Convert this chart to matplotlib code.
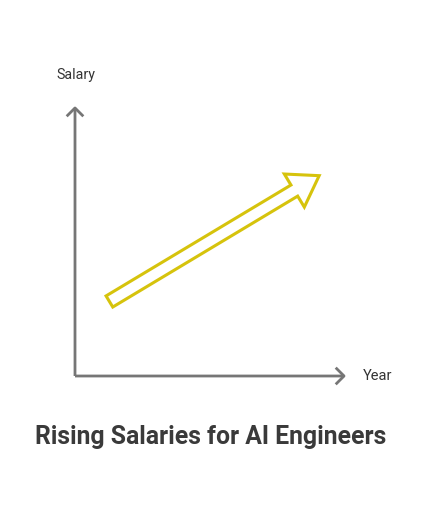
import matplotlib.pyplot as plt
from matplotlib.patches import FancyArrow, FancyArrowPatch

plt.rcParams['font.family'] = ['Roboto', 'DejaVu Sans']

# Chart content
title = 'Rising Salaries for AI Engineers'
x_label = 'Year'
y_label = 'Salary'
# Trend arrow: start and end in axis units (0..1)
trend_start = [0.127, 0.276]
trend_end = [0.901, 0.742]

axis_color = '#767676'
trend_color = '#D6C30C'
text_color = '#333333'

W, H = 437, 512
fig = plt.figure(figsize=(W / 100, H / 100), dpi=100)

# axes area: origin at (75, 376) px, extent 271 x 270 px
ax = fig.add_axes([75 / W, (H - 376) / H, 271 / W, 270 / H])
ax.set_xlim(0, 1)
ax.set_ylim(0, 1)
ax.axis('off')

# Axis lines with open arrow heads
for end in [(1, 0), (0, 1)]:
    a = FancyArrowPatch((0, 0), end, arrowstyle='->,head_length=6,head_width=6',
                        mutation_scale=1, color=axis_color, lw=2.0,
                        shrinkA=0, shrinkB=0, clip_on=False, capstyle='butt')
    ax.add_patch(a)

# Outlined trend arrow
dx = trend_end[0] - trend_start[0]
dy = trend_end[1] - trend_start[1]
arrow = FancyArrow(trend_start[0], trend_start[1], dx, dy, width=0.048,
                   head_width=0.143, head_length=0.107, length_includes_head=True,
                   fill=False, edgecolor=trend_color, lw=2.2, joinstyle='miter')
ax.add_patch(arrow)

# Labels
fig.text(76 / W, 1 - 75 / H, y_label, ha='center', va='center',
         fontsize=10.3, color=text_color)
fig.text(363 / W, 1 - 376 / H, x_label, ha='left', va='center',
         fontsize=10.5, color=text_color)
fig.text(211 / W, 1 - 437 / H, title, ha='center', va='center',
         fontsize=17.8, fontweight='bold', color='#3a3a3a')

fig.savefig('out.png', dpi=100)
